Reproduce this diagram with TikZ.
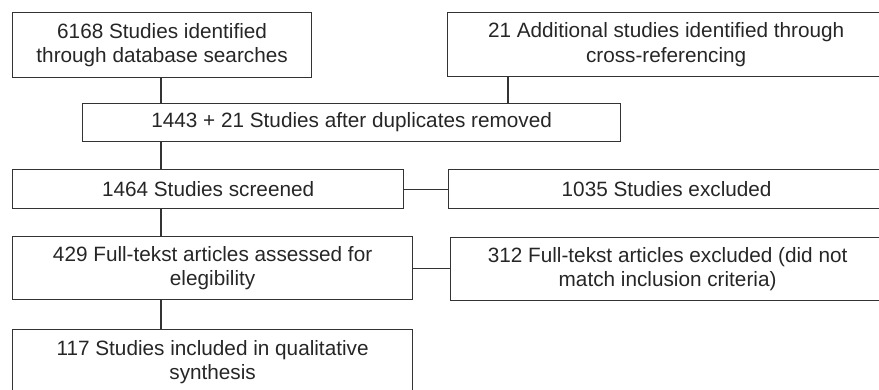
\documentclass[tikz,border=0pt]{standalone}
\usepackage{fontspec}
\setmainfont{Liberation Sans}
\usetikzlibrary{positioning, calc}

\tikzset{
  box/.style={draw=black!80, line width=0.7pt, anchor=north west, inner sep=0pt,
    align=center, text=black!85, font=\fontsize{11.8}{14.2}\selectfont},
  link/.style={draw=black!80, line width=0.7pt}
}

\begin{document}
\begin{tikzpicture}
\useasboundingbox (0,0) rectangle (17.58,-7.78);
\clip (0,0) rectangle (17.58,-7.78);
% identification
\node[box, minimum width=5.98cm, minimum height=1.30cm] (ident) at (0.24,-0.24)
  {6168 Studies identified\\through database searches};
\node[box, minimum width=8.74cm, minimum height=1.28cm] (extra) at (8.94,-0.24)
  {21 Additional studies identified through\\cross-referencing};
\node[box, minimum width=10.76cm, minimum height=0.76cm] (dedup) at (1.64,-2.06)
  {1443 + 21 Studies after duplicates removed};
% screening
\node[box, minimum width=7.82cm, minimum height=0.78cm] (screen) at (0.24,-3.38)
  {1464 Studies screened};
\node[box, minimum width=8.72cm, minimum height=0.78cm] (excl) at (8.96,-3.38)
  {1035 Studies excluded};
% eligibility
\node[box, minimum width=8.00cm, minimum height=1.26cm] (full) at (0.24,-4.72)
  {429 Full-tekst articles assessed for\\elegibility};
\node[box, minimum width=8.68cm, minimum height=1.26cm] (fullexcl) at (9.00,-4.74)
  {312 Full-tekst articles excluded (did not\\match inclusion criteria)};
% included
\node[box, minimum width=8.00cm, minimum height=1.30cm] (incl) at (0.24,-6.58)
  {117 Studies included in qualitative\\synthesis};

\coordinate (spine) at (3.22,0);
\coordinate (drop) at (10.16,0);
\draw[link] (spine |- ident.south) -- (spine |- dedup.north);
\draw[link] (drop |- extra.south) -- (drop |- dedup.north);
\draw[link] (spine |- dedup.south) -- (spine |- screen.north);
\draw[link] (screen.east) -- (screen.east -| excl.west);
\draw[link] (spine |- screen.south) -- (spine |- full.north);
\draw[link] (full.east) -- (full.east -| fullexcl.west);
\draw[link] (spine |- full.south) -- (spine |- incl.north);
\end{tikzpicture}
\end{document}
